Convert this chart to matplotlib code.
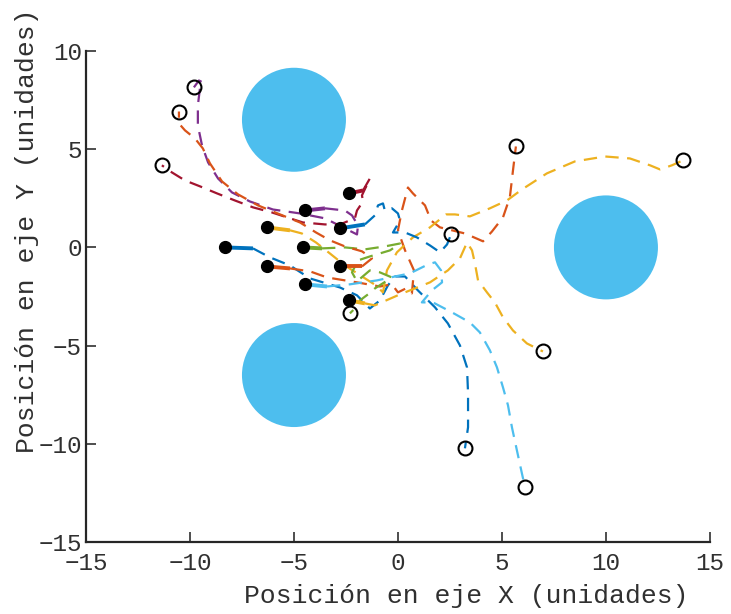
import matplotlib
matplotlib.use("Agg")
import matplotlib.pyplot as plt
from matplotlib.patches import Ellipse

# Obstacles (centres and radius, in plot units)
obst_x = [-5.0, -5.0, 10.0]
obst_y = [6.5, -6.5, 0.0]
obst_r = 2.5

# Agent trajectories (x, y), first point = start position, last point = final position
traj1_x = [-8.32, -6.97, -6.15, -5.19, -4.23, -2.79, -1.97, -1.35, -0.87, -0.48, -0.14, 0.34, 0.96, 1.78, 2.40, 2.98, 3.32, 3.37, 3.37, 3.22]
traj1_y = [0.0, -0.05, -0.51, -0.92, -1.58, -2.04, -2.44, -3.11, -2.70, -1.93, -1.48, -1.48, -2.19, -3.05, -3.87, -4.99, -6.11, -7.43, -9.16, -10.23]

traj2_x = [-6.30, -5.19, -4.23, -3.41, -1.97, -0.87, -0.29, 0.0, 0.38, 0.67, 0.77, 0.34, 0.0, 0.19, 0.48, 0.72, 1.30, 1.59, 2.02, 3.22, 4.09, 4.52, 5.05, 5.38, 5.53, 5.67]
traj2_y = [-0.97, -1.07, -1.22, -1.53, -1.78, -1.99, -1.88, -2.29, -2.09, -2.34, -1.17, -0.15, 0.87, 1.88, 3.05, 2.75, 2.14, 1.37, 1.02, 0.71, 0.31, 0.81, 1.53, 2.55, 3.92, 5.14]

traj3_x = [-6.30, -5.19, -4.62, -3.94, -3.27, -2.55, -1.73, -1.06, -0.72, -0.53, -0.05, 0.72, 1.54, 2.31, 2.74, 3.46, 4.42, 5.24, 5.96, 7.16, 8.51, 9.95, 11.15, 12.12, 12.60, 13.17, 13.70]
traj3_y = [1.02, 0.87, 0.71, 0.25, -0.31, -0.92, -1.48, -1.93, -2.29, -1.17, -0.25, 0.51, 1.02, 1.68, 1.68, 1.58, 1.99, 2.39, 2.95, 3.77, 4.38, 4.63, 4.53, 4.18, 3.97, 4.18, 4.43]

traj4_x = [-4.47, -3.51, -2.55, -2.21, -1.92, -1.97, -2.55, -3.51, -4.71, -6.01, -7.12, -7.98, -8.65, -9.13, -9.42, -9.62, -9.62, -9.52, -9.38, -9.57, -9.81]
traj4_y = [1.88, 1.99, 1.88, 1.63, 1.12, 0.66, 0.97, 1.48, 1.73, 1.93, 2.34, 2.80, 3.51, 4.33, 5.19, 6.21, 7.23, 8.10, 8.40, 8.50, 8.15]

traj5_x = [-4.57, -3.65, -2.55, -1.59, -0.63, 0.10, -0.38, -1.35, -1.92, -2.21, -1.97, -1.35, -0.87, -0.29, -1.11, -1.44, -1.83, -1.97, -2.31]
traj5_y = [0.0, -0.05, 0.0, -0.10, 0.05, 0.20, -0.15, -0.46, -0.66, -1.27, -1.73, -1.17, -1.27, -1.53, -2.09, -2.39, -2.70, -3.00, -3.36]

traj6_x = [-4.47, -3.41, -2.31, -1.01, -0.14, 0.58, 1.44, 1.78, 2.07, 2.12, 1.63, 1.15, 1.68, 2.60, 3.46, 3.94, 4.42, 4.76, 5.05, 5.29, 5.48, 5.72, 5.96, 6.11]
traj6_y = [-1.88, -1.99, -1.88, -1.68, -1.48, -1.32, -0.87, -0.76, -1.17, -1.78, -2.19, -2.80, -2.80, -3.31, -3.82, -4.33, -5.24, -6.11, -7.13, -8.04, -9.16, -10.34, -11.51, -12.22]

traj7_x = [-2.36, -1.68, -1.35, -1.73, -1.68, -1.97, -2.07, -2.79, -3.51, -4.57, -5.19, -6.06, -6.97, -7.84, -8.70, -9.52, -10.24, -10.87, -11.35]
traj7_y = [2.75, 2.90, 3.51, 2.65, 2.34, 1.88, 1.48, 1.17, 1.17, 1.27, 1.48, 1.78, 2.04, 2.39, 2.75, 3.11, 3.41, 3.82, 4.18]

traj8_x = [-2.79, -1.59, -1.11, -0.96, -0.72, -0.63, -0.29, 0.0, 0.10, -0.24, 0.34, 0.91, 1.54, 2.02, 2.36, 2.55]
traj8_y = [0.97, 1.17, 1.63, 2.14, 2.24, 1.88, 1.99, 1.73, 1.37, 0.76, 0.76, 0.51, 0.10, -0.25, 0.15, 0.66]

traj9_x = [-2.79, -1.73, -1.25, -1.73, -2.55, -3.27, -3.94, -4.71, -5.67, -6.73, -7.69, -8.46, -9.04, -9.38, -9.76, -10.24, -10.53, -10.53]
traj9_y = [-0.97, -0.97, -0.56, -0.20, 0.05, 0.36, 0.76, 1.27, 1.68, 2.14, 2.70, 3.36, 4.28, 5.04, 5.55, 5.96, 6.31, 6.92]

traj10_x = [-2.36, -1.59, -1.11, 0.10, 1.54, 2.40, 2.98, 3.32, 3.56, 3.70, 3.85, 4.28, 4.66, 5.05, 5.53, 6.20, 6.97]
traj10_y = [-2.70, -2.85, -2.95, -2.39, -1.78, -1.17, -0.56, 0.25, -0.15, -0.81, -1.68, -2.29, -2.80, -3.56, -4.23, -4.89, -5.30]

trajectories = [
    (traj1_x, traj1_y), (traj2_x, traj2_y), (traj3_x, traj3_y), (traj4_x, traj4_y),
    (traj5_x, traj5_y), (traj6_x, traj6_y), (traj7_x, traj7_y), (traj8_x, traj8_y),
    (traj9_x, traj9_y), (traj10_x, traj10_y),
]

colors = ['#0072BD', '#D95319', '#EDB120', '#7E2F8E', '#77AC30', '#4DBEEE', '#A2142F']

x_ticks = [-15, -10, -5, 0, 5, 10, 15]
y_ticks = [-15, -10, -5, 0, 5, 10]

plt.rcParams['font.family'] = ['Liberation Mono', 'DejaVu Sans Mono']
text_color = '#303030'

fig = plt.figure(figsize=(7.31, 6.14), dpi=100)
ax = fig.add_axes([0.1176, 0.1173, 0.8536, 0.7996])
ax.set_xlim(-15, 15)
ax.set_ylim(-15, 10)

# y-radius scaled so obstacles render as round discs
bbox = ax.get_position()
px_per_x = bbox.width * fig.get_figwidth() / 30.0
px_per_y = bbox.height * fig.get_figheight() / 25.0
for cx, cy in zip(obst_x, obst_y):
    ax.add_patch(Ellipse((cx, cy), 2 * obst_r, 2 * obst_r * px_per_x / px_per_y,
                         facecolor='#4DBEEE', edgecolor='none', zorder=1))

for i, (tx, ty) in enumerate(trajectories):
    c = colors[i % len(colors)]
    ax.plot(tx[:2], ty[:2], '-', color=c, lw=2.8, solid_capstyle='butt', zorder=2)
    ax.plot(tx[1:], ty[1:], color=c, lw=1.6, linestyle=(0, (6, 3.8)), zorder=2)

for tx, ty in trajectories:
    ax.plot(tx[0], ty[0], 'o', color='black', ms=8.5, zorder=4)
    ax.plot(tx[-1], ty[-1], 'o', mfc='none', mec='black', mew=1.5, ms=10, zorder=4)

ax.set_xticks(x_ticks)
ax.set_yticks(y_ticks)
ax.set_xticklabels([str(v).replace('-', '\u2212') for v in x_ticks])
ax.set_yticklabels([str(v).replace('-', '\u2212') for v in y_ticks])
ax.tick_params(direction='in', length=7, width=1.2, colors=text_color,
               labelsize=17.5, labelcolor=text_color)
ax.tick_params(axis='x', pad=7)
ax.tick_params(axis='y', pad=3)
for side in ['top', 'right']:
    ax.spines[side].set_visible(False)
for side in ['left', 'bottom']:
    ax.spines[side].set_color('#262626')
    ax.spines[side].set_linewidth(1.6)

ax.set_xlabel('Posición en eje X (unidades)', fontsize=19, color=text_color)
ax.set_ylabel('Posición en eje Y (unidades)', fontsize=19, color=text_color)
ax.xaxis.set_label_coords(0.609, -0.085)
ax.yaxis.set_label_coords(-0.076, 0.633)

fig.savefig('out.png', dpi=100)
